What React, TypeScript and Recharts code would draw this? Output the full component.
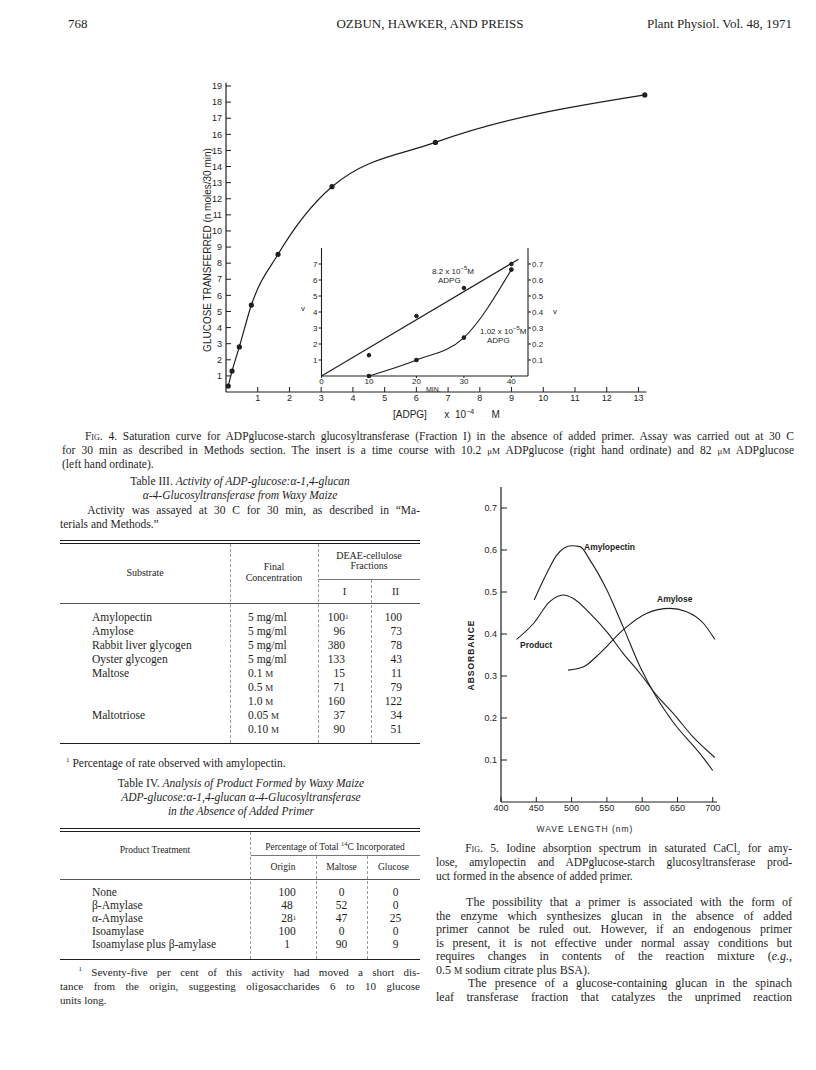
import React from "react";
import { ComposedChart, Line, XAxis, YAxis } from "recharts";

// ---- Fig. 4 saturation curve ----
const adpgConc = [0.07, 0.19, 0.42, 0.8, 1.64, 3.34, 6.6, 13.2]; // [ADPG] x 10^-4 M
const glucoseTransferred = [0.37, 1.3, 2.8, 5.4, 8.55, 12.75, 15.5, 18.45]; // n moles / 30 min
const mainXTicks = [1, 2, 3, 4, 5, 6, 7, 8, 9, 10, 11, 12, 13];
const mainYTicks = [1, 2, 3, 4, 5, 6, 7, 8, 9, 10, 11, 12, 13, 14, 15, 16, 17, 18, 19];

// ---- Fig. 4 insert: time course ----
const insetMin = [10, 20, 30, 40];
const highAdpgV = [1.3, 3.75, 5.5, 7.0]; // 8.2 x 10^-5 M, left ordinate
const highFitMin = [0, 41.5];
const highFitV = [0, 7.3];
const lowAdpgV = [0.0, 0.1, 0.24, 0.665]; // 1.02 x 10^-5 M, right ordinate
const insetXTicks = [0, 10, 20, 30, 40];
const insetLeftTicks = [1, 2, 3, 4, 5, 6, 7];
const insetRightTicks = [0.1, 0.2, 0.3, 0.4, 0.5, 0.6, 0.7];

// ---- Fig. 5 iodine absorption spectrum ----
const amylopectinNm = [447, 465, 479, 500, 512, 526, 550, 573, 597, 620, 644, 682, 700];
const amylopectinAbs = [0.481, 0.545, 0.588, 0.61, 0.608, 0.576, 0.505, 0.417, 0.322, 0.25, 0.19, 0.115, 0.075];
const productNm = [422, 446, 469, 488, 502, 526, 550, 573, 597, 620, 644, 672, 703];
const productAbs = [0.387, 0.425, 0.477, 0.493, 0.485, 0.449, 0.405, 0.354, 0.306, 0.255, 0.211, 0.155, 0.106];
const amyloseNm = [495, 517, 540, 573, 606, 639, 663, 687, 703];
const amyloseAbs = [0.314, 0.322, 0.354, 0.41, 0.449, 0.461, 0.453, 0.425, 0.387];
const waveTicks = [400, 450, 500, 550, 600, 650, 700];
const absTicks = [0.1, 0.2, 0.3, 0.4, 0.5, 0.6, 0.7];

// ---- Table III ----
const substrates = ["Amylopectin", "Amylose", "Rabbit liver glycogen", "Oyster glycogen", "Maltose", "", "", "Maltotriose", ""];
const concentrations = ["5 mg/ml", "5 mg/ml", "5 mg/ml", "5 mg/ml", "0.1 M", "0.5 M", "1.0 M", "0.05 M", "0.10 M"];
const fractionI = ["100", "96", "380", "133", "15", "71", "160", "37", "90"];
const fractionII = ["100", "73", "78", "43", "11", "79", "122", "34", "51"];

// ---- Table IV ----
const treatments = ["None", "β-Amylase", "α-Amylase", "Isoamylase", "Isoamylase plus β-amylase"];
const originPct = ["100", "48", "28", "100", "1"];
const maltosePct = ["0", "52", "47", "0", "90"];
const glucosePct = ["0", "0", "25", "0", "9"];

const ink = "#1e1e1e";
const serif = "'Liberation Serif', 'Times New Roman', serif";
const sans = "'Liberation Sans', Arial, sans-serif";

type TxProps = {
  x: number;
  y: number;
  w?: number;
  s?: number;
  j?: boolean;
  c?: boolean;
  r?: boolean;
  st?: React.CSSProperties;
  children: React.ReactNode;
};

// one line of text, y is the vertical centre
function Tx({ x, y, w, s = 12, j, c, r, st, children }: TxProps) {
  const lh = Math.round(s * 1.2);
  const align = c ? "center" : r ? "right" : j ? "justify" : "left";
  return (
    <div
      style={{
        position: "absolute",
        left: x,
        top: y - lh / 2,
        width: w,
        height: lh,
        fontSize: s,
        lineHeight: `${lh}px`,
        textAlign: align as any,
        textAlignLast: align as any,
        whiteSpace: j ? "normal" : "nowrap",
        ...st,
      }}
    >
      {children}
    </div>
  );
}

function HRule({ x, y, w, c = ink }: { x: number; y: number; w: number; c?: string }) {
  return <div style={{ position: "absolute", left: x, top: y, width: w, borderTop: `1px solid ${c}` }} />;
}

function VRule({ x, y1, y2 }: { x: number; y1: number; y2: number }) {
  return <div style={{ position: "absolute", left: x, top: y1, height: y2 - y1, borderLeft: "1px dashed #9a9a9a" }} />;
}

const Mol = () => <span style={{ fontSize: "0.78em" }}>M</span>;
const Fig = () => <span style={{ fontVariant: "small-caps" }}>Fig.</span>;

const axisTick = { fill: ink, fontSize: 9, fontFamily: sans };
const inTick = { fill: ink, fontSize: 8, fontFamily: sans };

function MainChart() {
  const data = adpgConc.map((x, i) => ({ x, y: glucoseTransferred[i] }));
  return (
    <div style={{ position: "absolute", left: 150, top: 70 }}>
      <ComposedChart width={520} height={360} data={data} margin={{ top: 12.8, right: 23.6, bottom: 8, left: 46 }}>
        <XAxis
          type="number"
          dataKey="x"
          domain={[0, 13.25]}
          ticks={mainXTicks}
          interval={0}
          height={30}
          tickSize={-5}
          tickMargin={8}
          axisLine={{ stroke: ink, strokeWidth: 1.2 }}
          tickLine={{ stroke: ink }}
          tick={axisTick}
        />
        <YAxis
          type="number"
          domain={[0, 19.2]}
          ticks={mainYTicks}
          interval={0}
          width={30}
          tickSize={-5}
          tickMargin={9}
          axisLine={{ stroke: ink, strokeWidth: 1.2 }}
          tickLine={{ stroke: ink }}
          tick={axisTick}
        />
        <Line
          dataKey="y"
          type="monotone"
          stroke={ink}
          strokeWidth={1.2}
          dot={{ r: 2, fill: ink, stroke: ink }}
          isAnimationActive={false}
        />
      </ComposedChart>
    </div>
  );
}

function InsetChart() {
  const fit = highFitMin.map((t, i) => ({ t, v: highFitV[i] }));
  const high = insetMin.map((t, i) => ({ t, v: highAdpgV[i] }));
  const low = insetMin.map((t, i) => ({ t, w: lowAdpgV[i] }));
  return (
    <div style={{ position: "absolute", left: 280, top: 230 }}>
      <ComposedChart width={290} height={170} margin={{ top: 18, right: 12, bottom: 4, left: 16.5 }}>
        <XAxis
          type="number"
          dataKey="t"
          domain={[0, 43.5]}
          ticks={insetXTicks}
          interval={0}
          height={20}
          tickSize={2}
          tickMargin={0}
          axisLine={{ stroke: ink, strokeWidth: 1.1 }}
          tickLine={{ stroke: ink }}
          tick={inTick}
        />
        <YAxis
          yAxisId="l"
          type="number"
          domain={[0, 8]}
          ticks={insetLeftTicks}
          interval={0}
          width={25}
          tickSize={3}
          tickMargin={1}
          axisLine={{ stroke: ink, strokeWidth: 1.1 }}
          tickLine={{ stroke: ink }}
          tick={inTick}
        />
        <YAxis
          yAxisId="r"
          orientation="right"
          type="number"
          domain={[0, 0.8]}
          ticks={insetRightTicks}
          interval={0}
          width={30}
          tickSize={3}
          tickMargin={1}
          axisLine={{ stroke: ink, strokeWidth: 1.1 }}
          tickLine={{ stroke: ink }}
          tick={inTick}
        />
        <Line yAxisId="l" data={fit} dataKey="v" type="linear" stroke={ink} strokeWidth={1.1} dot={false} isAnimationActive={false} />
        <Line
          yAxisId="l"
          data={high}
          dataKey="v"
          stroke="none"
          dot={{ r: 1.8, fill: ink, stroke: ink }}
          isAnimationActive={false}
        />
        <Line
          yAxisId="r"
          data={low}
          dataKey="w"
          type="monotone"
          stroke={ink}
          strokeWidth={1.1}
          dot={{ r: 1.8, fill: ink, stroke: ink }}
          isAnimationActive={false}
        />
      </ComposedChart>
    </div>
  );
}

function SpectrumChart() {
  const ap = amylopectinNm.map((nm, i) => ({ nm, a: amylopectinAbs[i] }));
  const pr = productNm.map((nm, i) => ({ nm, a: productAbs[i] }));
  const al = amyloseNm.map((nm, i) => ({ nm, a: amyloseAbs[i] }));
  return (
    <div style={{ position: "absolute", left: 440, top: 470 }}>
      <ComposedChart width={300} height={360} margin={{ top: 17, right: 23, bottom: 3, left: 21 }}>
        <XAxis
          type="number"
          dataKey="nm"
          domain={[400, 706]}
          ticks={waveTicks}
          interval={0}
          height={25}
          tickSize={-5}
          tickMargin={8}
          axisLine={{ stroke: ink, strokeWidth: 1.2 }}
          tickLine={{ stroke: ink }}
          tick={axisTick}
        />
        <YAxis
          type="number"
          domain={[0, 0.75]}
          ticks={absTicks}
          interval={0}
          width={40}
          tickSize={-6}
          tickMargin={10}
          axisLine={{ stroke: ink, strokeWidth: 1.2 }}
          tickLine={{ stroke: ink }}
          tick={axisTick}
        />
        <Line data={ap} dataKey="a" type="monotone" stroke={ink} strokeWidth={1.1} dot={false} isAnimationActive={false} />
        <Line data={pr} dataKey="a" type="monotone" stroke={ink} strokeWidth={1.1} dot={false} isAnimationActive={false} />
        <Line data={al} dataKey="a" type="monotone" stroke={ink} strokeWidth={1.1} dot={false} isAnimationActive={false} />
      </ComposedChart>
    </div>
  );
}

const t3Rows = [617, 631, 645, 659, 673, 687, 701, 715, 729];
const t4Rows = [892, 905, 918, 931, 944];

export default function App() {
  const fs = { fontFamily: sans, color: ink } as React.CSSProperties;
  return (
    <div
      style={{
        position: "absolute",
        left: 0,
        top: 0,
        width: 816,
        height: 1070,
        background: "#fff",
        color: ink,
        fontFamily: serif,
        overflow: "hidden",
      }}
    >
      {/* running head */}
      <Tx x={68} y={24} s={13}>768</Tx>
      <Tx x={300} y={24} w={260} c s={13}>OZBUN, HAWKER, AND PREISS</Tx>
      <Tx x={560} y={24} w={232} r s={13}>Plant Physiol. Vol. 48, 1971</Tx>

      {/* Fig. 4 */}
      <MainChart />
      <InsetChart />
      <Tx x={168} y={250} w={80} c s={10} st={{ ...fs, transform: "rotate(-90deg)", width: 260, left: 78 }}>
        GLUCOSE TRANSFERRED (n moles/30 min)
      </Tx>
      <Tx x={426} y={390} s={7} st={fs}>MIN.</Tx>
      <Tx x={393} y={412} s={10} st={{ ...fs, wordSpacing: 3 }}>
        [ADPG]&nbsp;&nbsp; x 10<sup style={{ fontSize: 7 }}>−4</sup>&nbsp;&nbsp; M
      </Tx>
      <Tx x={432} y={268} s={8} st={fs}>8.2 x 10<sup style={{ fontSize: 6 }}>−5</sup>M</Tx>
      <Tx x={438} y={281} s={8} st={fs}>ADPG</Tx>
      <Tx x={480} y={328} s={8} st={fs}>1.02 x 10<sup style={{ fontSize: 6 }}>−5</sup>M</Tx>
      <Tx x={487} y={341} s={8} st={fs}>ADPG</Tx>
      <Tx x={301} y={309} s={8} st={fs}>v</Tx>
      <Tx x={553} y={312} s={8} st={fs}>v</Tx>

      <Tx x={62} y={436} w={732} j s={11.5}>
        &nbsp;&nbsp;&nbsp;&nbsp;<Fig /> 4. Saturation curve for ADPglucose-starch glucosyltransferase (Fraction I) in the absence of added primer. Assay was carried out at 30 C
      </Tx>
      <Tx x={62} y={450} w={732} j s={11.5}>
        for 30 min as described in Methods section. The insert is a time course with 10.2 <span style={{ fontSize: 9 }}>μM</span> ADPglucose (right hand ordinate) and 82 <span style={{ fontSize: 9 }}>μM</span> ADPglucose
      </Tx>
      <Tx x={62} y={464} s={11.5}>(left hand ordinate).</Tx>

      {/* Table III */}
      <Tx x={60} y={481} w={360} c s={11.5}>
        Table III. <i>Activity of ADP-glucose:α-1,4-glucan</i>
      </Tx>
      <Tx x={60} y={495} w={360} c s={11.5}>
        <i>α-4-Glucosyltransferase from Waxy Maize</i>
      </Tx>
      <Tx x={60} y={510} w={360} j s={11.5}>
        &nbsp;&nbsp;&nbsp;&nbsp;Activity was assayed at 30 C for 30 min, as described in “Ma-
      </Tx>
      <Tx x={60} y={524} s={11.5}>terials and Methods.”</Tx>

      <HRule x={60} y={540} w={360} />
      <HRule x={60} y={543} w={360} />
      <VRule x={230} y1={544} y2={743} />
      <VRule x={318} y1={544} y2={743} />
      <VRule x={371} y1={580} y2={743} />
      <Tx x={60} y={573} w={170} c s={10}>Substrate</Tx>
      <Tx x={230} y={567} w={88} c s={10}>Final</Tx>
      <Tx x={230} y={578} w={88} c s={10}>Concentration</Tx>
      <Tx x={318} y={556} w={102} c s={10}>DEAE-cellulose</Tx>
      <Tx x={318} y={566} w={102} c s={10}>Fractions</Tx>
      <HRule x={319} y={579} w={101} c="#777" />
      <Tx x={318} y={591} w={53} c s={10.5}>I</Tx>
      <Tx x={371} y={591} w={49} c s={10.5}>II</Tx>
      <HRule x={60} y={603} w={360} c="#555" />
      {t3Rows.map((y, i) => (
        <React.Fragment key={"t3" + i}>
          <Tx x={92} y={y} s={11.5}>{substrates[i]}</Tx>
          <Tx x={248} y={y} s={11.5}>
            {concentrations[i].endsWith(" M") ? (
              <>
                {concentrations[i].slice(0, -1)}
                <Mol />
              </>
            ) : (
              concentrations[i]
            )}
          </Tx>
          <Tx x={305} y={y} w={40} r s={11.5}>
            {fractionI[i]}
            {i === 0 && <sup style={{ fontSize: 7, position: "absolute" }}>1</sup>}
          </Tx>
          <Tx x={362} y={y} w={40} r s={11.5}>{fractionII[i]}</Tx>
        </React.Fragment>
      ))}
      <HRule x={60} y={743} w={360} />
      <Tx x={66} y={760} s={11.5}>
        <sup style={{ fontSize: 7 }}>1</sup> Percentage of rate observed with amylopectin.
      </Tx>

      {/* Table IV */}
      <Tx x={60} y={783} w={362} c s={11.5}>
        Table IV. <i>Analysis of Product Formed by Waxy Maize</i>
      </Tx>
      <Tx x={60} y={797} w={362} c s={11.5}>
        <i>ADP-glucose:α-1,4-glucan α-4-Glucosyltransferase</i>
      </Tx>
      <Tx x={60} y={811} w={362} c s={11.5}>
        <i>in the Absence of Added Primer</i>
      </Tx>
      <HRule x={60} y={828} w={360} />
      <HRule x={60} y={831} w={360} />
      <VRule x={250} y1={832} y2={959} />
      <Tx x={250} y={843} w={170} c s={9.5}>
        Percentage of Total <sup style={{ fontSize: 6.5 }}>14</sup>C Incorporated
      </Tx>
      <HRule x={251} y={855} w={169} c="#777" />
      <VRule x={316} y1={856} y2={959} />
      <VRule x={367} y1={856} y2={959} />
      <Tx x={60} y={850} w={190} c s={9.5}>Product Treatment</Tx>
      <Tx x={250} y={867} w={66} c s={9.5}>Origin</Tx>
      <Tx x={316} y={867} w={51} c s={9.5}>Maltose</Tx>
      <Tx x={367} y={867} w={53} c s={9.5}>Glucose</Tx>
      <HRule x={60} y={879} w={360} c="#555" />
      {t4Rows.map((y, i) => (
        <React.Fragment key={"t4" + i}>
          <Tx x={92} y={y} s={11.5}>{treatments[i]}</Tx>
          <Tx x={262} y={y} w={50} c s={11.5}>
            {originPct[i]}
            {i === 2 && <sup style={{ fontSize: 7, position: "absolute" }}>1</sup>}
          </Tx>
          <Tx x={316} y={y} w={51} c s={11.5}>{maltosePct[i]}</Tx>
          <Tx x={369} y={y} w={53} c s={11.5}>{glucosePct[i]}</Tx>
        </React.Fragment>
      ))}
      <HRule x={60} y={959} w={360} />
      <Tx x={60} y={972} w={360} j s={11}>
        &nbsp;&nbsp;<sup style={{ fontSize: 7, lineHeight: 0 }}>1</sup> Seventy-five per cent of this activity had moved a short dis-
      </Tx>
      <Tx x={60} y={986} w={360} j s={11}>
        tance from the origin, suggesting oligosaccharides 6 to 10 glucose
      </Tx>
      <Tx x={60} y={1000} s={11}>units long.</Tx>

      {/* Fig. 5 */}
      <SpectrumChart />
      <Tx x={584} y={547} s={8.5} st={{ ...fs, fontWeight: 600 }}>Amylopectin</Tx>
      <Tx x={657} y={599} s={8.5} st={{ ...fs, fontWeight: 600 }}>Amylose</Tx>
      <Tx x={520} y={645} s={8.5} st={{ ...fs, fontWeight: 600 }}>Product</Tx>
      <Tx x={421} y={655} w={100} c s={8.5} st={{ ...fs, fontWeight: 600, letterSpacing: 1, transform: "rotate(-90deg)" }}>
        ABSORBANCE
      </Tx>
      <Tx x={525} y={829} w={120} c s={8.5} st={{ ...fs, letterSpacing: 1 }}>
        WAVE LENGTH (nm)
      </Tx>

      <Tx x={436} y={848} w={356} j s={11.5}>
        &nbsp;&nbsp;&nbsp;&nbsp;<Fig /> 5. Iodine absorption spectrum in saturated CaCl<sub style={{ fontSize: 7, lineHeight: 0 }}>2</sub> for amy-
      </Tx>
      <Tx x={436} y={862} w={356} j s={11.5}>
        lose, amylopectin and ADPglucose-starch glucosyltransferase prod-
      </Tx>
      <Tx x={436} y={876} s={11.5}>uct formed in the absence of added primer.</Tx>

      <Tx x={436} y={902} w={356} j s={12}>
        &nbsp;&nbsp;&nbsp;&nbsp;The possibility that a primer is associated with the form of
      </Tx>
      <Tx x={436} y={916} w={356} j s={12}>
        the enzyme which synthesizes glucan in the absence of added
      </Tx>
      <Tx x={436} y={929} w={356} j s={12}>
        primer cannot be ruled out. However, if an endogenous primer
      </Tx>
      <Tx x={436} y={943} w={356} j s={12}>
        is present, it is not effective under normal assay conditions but
      </Tx>
      <Tx x={436} y={956} w={356} j s={12}>
        requires changes in contents of the reaction mixture (<i>e.g.</i>,
      </Tx>
      <Tx x={436} y={970} s={12}>
        0.5 <Mol /> sodium citrate plus BSA).
      </Tx>
      <Tx x={436} y={983} w={356} j s={12}>
        &nbsp;&nbsp;&nbsp;&nbsp;The presence of a glucose-containing glucan in the spinach
      </Tx>
      <Tx x={436} y={997} w={356} j s={12}>
        leaf transferase fraction that catalyzes the unprimed reaction
      </Tx>
    </div>
  );
}
